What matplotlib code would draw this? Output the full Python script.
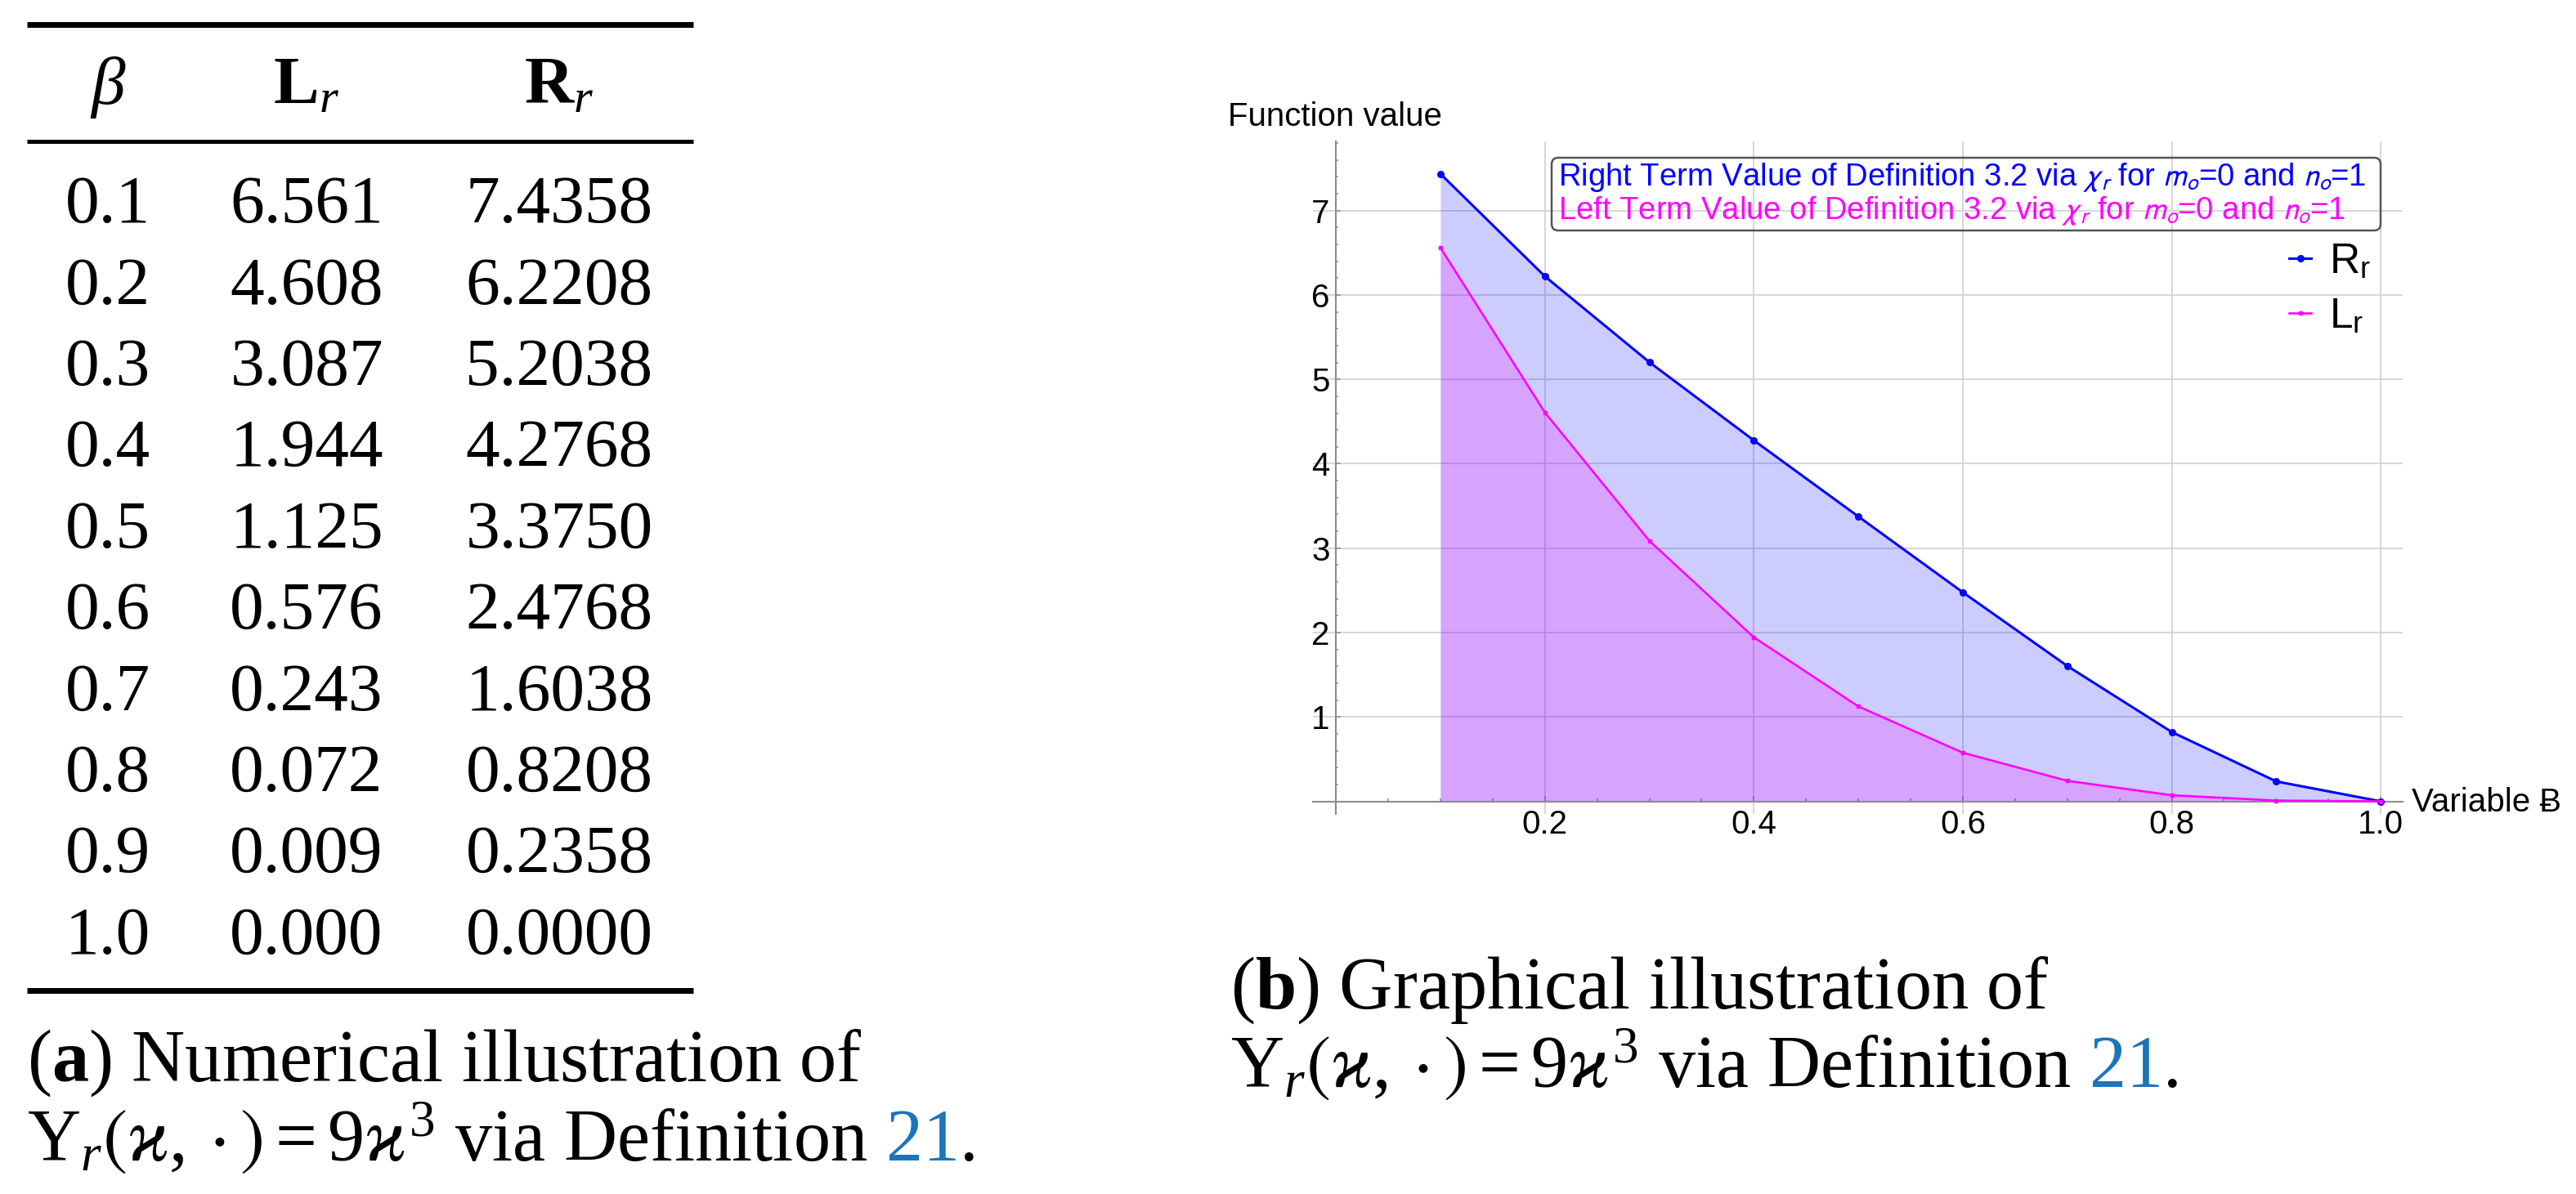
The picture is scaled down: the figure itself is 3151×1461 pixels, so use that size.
import matplotlib
matplotlib.use('Agg')
import matplotlib.pyplot as plt
from matplotlib.lines import Line2D
from matplotlib.patches import FancyBboxPatch
from matplotlib.ticker import FixedLocator, MultipleLocator, FormatStrFormatter

# ---------------- data ----------------
beta = [0.1, 0.2, 0.3, 0.4, 0.5, 0.6, 0.7, 0.8, 0.9, 1.0]
L_r = [6.561, 4.608, 3.087, 1.944, 1.125, 0.576, 0.243, 0.072, 0.009, 0.000]
R_r = [7.4358, 6.2208, 5.2038, 4.2768, 3.3750, 2.4768, 1.6038, 0.8208, 0.2358, 0.0000]
x_major = [0.2, 0.4, 0.6, 0.8, 1.0]
y_major = [1, 2, 3, 4, 5, 6, 7]
table_header = [r'$\beta$', r'$\mathbf{L}_{r}$', r'$\mathbf{R}_{r}$']
series_names = [r'R$_\mathregular{r}$', r'L$_\mathregular{r}$']
box_lines = [r'Right Term Value of Definition 3.2 via $\chi_r$ for $m_o$=0 and $n_o$=1',
             r'Left Term Value of Definition 3.2 via $\chi_r$ for $m_o$=0 and $n_o$=1']
x_label = 'Variable Ƀ'
y_label = 'Function value'

BLUE = '#0000ff'
MAGENTA = '#ff00ff'
LINK = '#1a75bb'

plt.rcParams['font.family'] = ['Liberation Sans', 'DejaVu Sans']
plt.rcParams['mathtext.fontset'] = 'custom'
plt.rcParams['mathtext.rm'] = 'Liberation Serif'
plt.rcParams['mathtext.it'] = 'Liberation Serif:italic'
plt.rcParams['mathtext.bf'] = 'Liberation Serif:bold'
plt.rcParams['mathtext.fallback'] = 'stix'

W, H, DPI = 3151, 1461, 100
fig = plt.figure(figsize=(W / DPI, H / DPI), dpi=DPI)
T = fig.dpi_scale_trans


def P(x, y):
    return (x / DPI, (H - y) / DPI)


SERIF = ['Liberation Serif', 'DejaVu Serif']

# ---------------- (a) table ----------------
def hrule(y, lw_px):
    fig.add_artist(Line2D([33 / DPI, 848 / DPI], [(H - y) / DPI] * 2, transform=T,
                          color='black', lw=lw_px * 72 / DPI, solid_capstyle='butt'))

hrule(30, 7)
hrule(173, 5)
hrule(1212, 7)

col_x = [132, 375, 684]
TFS = 60
for cx, h in zip(col_x, table_header):
    fig.text(*P(cx, 127), h, transform=T, ha='center', va='baseline',
             fontsize=TFS, family=SERIF, math_fontfamily='custom')
for i, (b, l, r) in enumerate(zip(beta, L_r, R_r)):
    yb = 272 + i * 99.4
    for cx, s in zip(col_x, [f'{b:.1f}', f'{l:.3f}', f'{r:.4f}']):
        fig.text(*P(cx, yb), s, transform=T, ha='center', va='baseline',
                 fontsize=TFS, family=SERIF)

# ---------------- captions ----------------
CFS = 65
renderer = fig.canvas.get_renderer()


def caption(x, y1, y2, label, first):
    fig.text(*P(x, y1), r'($\mathbf{' + label + r'}$) ' + first, transform=T,
             ha='left', va='baseline', fontsize=CFS, family=SERIF, math_fontfamily='custom')
    t = fig.text(*P(x, y2), r'$\Upsilon_{r}\left(\varkappa,\cdot\right) = 9\varkappa^{3}$ via Definition',
                 transform=T, ha='left', va='baseline', fontsize=CFS, family=SERIF,
                 math_fontfamily='custom')
    bb = t.get_window_extent(renderer)
    sp = fig.text(bb.x1 / DPI, (H - y2) / DPI, 'n', transform=T, ha='left', va='baseline',
                  fontsize=CFS, family=SERIF, alpha=0)
    space = sp.get_window_extent(renderer).width * 0.5
    t2 = fig.text((bb.x1 + space) / DPI, (H - y2) / DPI, '21', transform=T, ha='left',
                  va='baseline', fontsize=CFS, family=SERIF, color=LINK)
    bb2 = t2.get_window_extent(renderer)
    fig.text(bb2.x1 / DPI, (H - y2) / DPI, '.', transform=T, ha='left', va='baseline',
             fontsize=CFS, family=SERIF)


caption(33, 1323, 1420, 'a', 'Numerical illustration of')
caption(1505, 1234, 1330, 'b', 'Graphical illustration of')

# ---------------- (b) plot ----------------
ax = fig.add_axes([1606 / W, 1 - 996 / H, 1333 / W, 823 / H])
ax.set_xlim(-0.022, 1.021)
ax.set_ylim(-0.15, 7.82)
ax.set_facecolor('none')
for s in ['top', 'right']:
    ax.spines[s].set_visible(False)
ax.spines['left'].set_position(('data', 0))
ax.spines['bottom'].set_position(('data', 0))
for s in ['left', 'bottom']:
    ax.spines[s].set_color('#8c8c8c')
    ax.spines[s].set_linewidth(1.5)

ax.xaxis.set_major_locator(FixedLocator(x_major))
ax.yaxis.set_major_locator(FixedLocator(y_major))
ax.xaxis.set_minor_locator(MultipleLocator(0.05))
ax.yaxis.set_minor_locator(MultipleLocator(0.2))
ax.xaxis.set_major_formatter(FormatStrFormatter('%.1f'))
ax.yaxis.set_major_formatter(FormatStrFormatter('%d'))
ax.tick_params(which='both', direction='in', color='#8c8c8c', width=1.1, labelsize=29)
ax.tick_params(axis='x', which='major', length=5, pad=7)
ax.tick_params(axis='x', which='minor', length=3)
ax.tick_params(axis='y', which='major', length=4.5, pad=5.5)
ax.tick_params(axis='y', which='minor', length=2.5)

ax.set_axisbelow(True)
ax.grid(True, which='major', color='#d0d0d0', lw=1.2)

ax.fill_between(beta, R_r, 0, color=BLUE, alpha=0.2, lw=0, zorder=1)
ax.fill_between(beta, L_r, 0, color=MAGENTA, alpha=0.2, lw=0, zorder=1)
lR, = ax.plot(beta, R_r, color=BLUE, lw=2.2, marker='o', ms=5.5, zorder=3, clip_on=False)
lL, = ax.plot(beta, L_r, color=MAGENTA, lw=1.9, marker='s', ms=3.2, zorder=3, clip_on=False)

ax.legend([lR, lL], series_names, loc='upper left', bbox_to_anchor=(0.8957, 0.85),
          frameon=False, prop={'family': 'Liberation Sans', 'size': 37},
          handlelength=0.53, handletextpad=0.43, labelspacing=0.35,
          borderpad=0, borderaxespad=0, numpoints=1)

# boxed description
fig.add_artist(FancyBboxPatch((18.98, (H - 282) / DPI), 29.12 - 18.98, (282 - 193) / DPI,
                              boxstyle='round,pad=0,rounding_size=0.08', transform=T,
                              facecolor='none', edgecolor='#555555', lw=1.8))
for txt, yb, c in zip(box_lines, [227, 268], [BLUE, MAGENTA]):
    fig.text(*P(1906, yb), txt, transform=T, ha='left', va='baseline', fontsize=27.5,
             color=c, family=['Liberation Sans', 'DejaVu Sans'], math_fontfamily='stixsans')

fig.text(*P(1502, 154), y_label, transform=T, ha='left', va='baseline', fontsize=29)
fig.text(*P(2950, 993), x_label, transform=T, ha='left', va='baseline', fontsize=29)

fig.savefig('out.png', dpi=DPI)
